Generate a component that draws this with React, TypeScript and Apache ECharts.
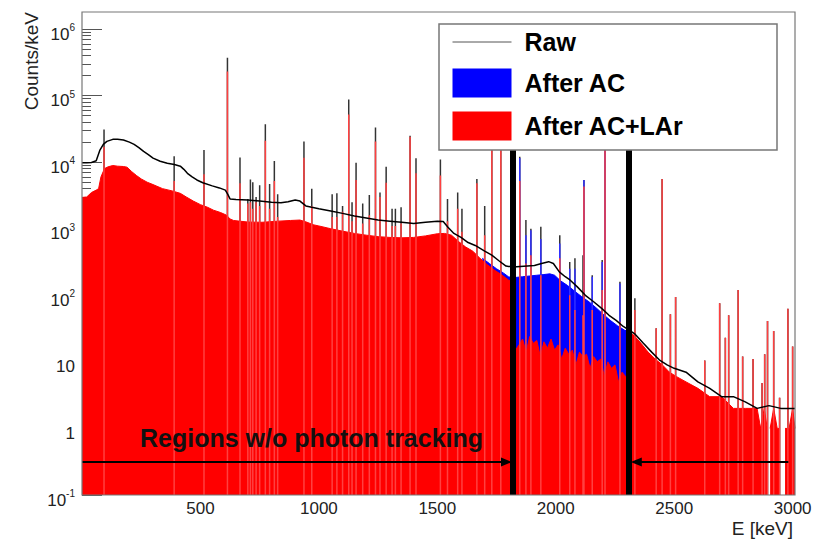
import React, { useEffect, useRef } from 'react';
import * as echarts from 'echarts';

const FONT = '"Liberation Sans", Arial, Helvetica, sans-serif';

// axis ticks
const xTicks = [500, 1000, 1500, 2000, 2500, 3000];
const yDecades = [0.1, 1, 10, 100, 1000, 10000, 100000, 1000000];

// Raw spectrum continuum (E in keV, counts/keV)
const rawE = [0,20,40,60,75,90,105,130,150,175,200,220,240,260,280,300,330,360,390,415,430,445,465,485,510,550,580,605,615,625,650,700,750,800,840,870,900,920,945,970,1000,1050,1100,1150,1200,1250,1300,1350,1400,1450,1500,1525,1545,1570,1600,1630,1660,1700,1730,1760,1790,1820,1850,1880,1910,1940,1970,1990,2015,2040,2060,2090,2125,2160,2195,2225,2255,2285,2310,2335,2370,2405,2440,2470,2500,2550,2600,2650,2700,2750,2800,2850,2900,2950,3010];
const rawV = [9800,9800,9900,10500,15000,18500,20500,22000,22000,21500,20000,18500,16500,14500,13000,11500,10300,9600,9200,8700,7800,6800,6000,5400,4900,4400,4100,3800,3300,2800,2750,2700,2600,2500,2450,2550,2700,2600,2200,2100,2000,1850,1700,1550,1450,1350,1300,1250,1200,1250,1300,1280,1050,850,740,620,560,460,400,330,275,265,270,275,280,300,320,300,225,190,170,135,100,80,63,50,42,34,30,26,19,14,10.5,9,8,7,5,4,3,3,2.5,2,2.2,2,2];

// After AC continuum (visible part)
const acE = [1690,1720,1750,1780,1800,1813,1817,1830,1860,1890,1920,1950,1975,1995,2020,2050,2080,2110,2140,2170,2200,2230,2260,2290,2312];
const acV = [360,300,250,215,190,185,190,185,190,195,200,205,210,200,165,140,115,95,80,65,52,42,35,30,28];

// After AC+LAr continuum (null = empty bins)
const larE = [0,20,40,60,70,80,95,110,130,150,175,190,210,230,250,275,300,340,380,415,440,470,500,530,555,585,610,625,640,700,760,830,880,920,950,975,1000,1050,1100,1150,1200,1250,1300,1350,1400,1450,1500,1530,1560,1590,1620,1650,1680,1710,1740,1770,1800,1813,1817,1830,1845,1860,1875,1890,1905,1920,1935,1950,1965,1980,1995,2010,2025,2040,2055,2070,2085,2100,2115,2130,2145,2160,2175,2190,2205,2220,2235,2250,2265,2280,2295,2306,2312,2330,2360,2390,2420,2450,2480,2510,2550,2600,2650,2700,2750,2800,2850,2865,2880,2893,2899,2905,2920,2935,2945,2955,2968,2985,3000,3010];
const larV = [2950,3000,3500,3800,4000,6000,8000,8500,8900,8700,8600,8400,7200,6300,5600,5000,4600,4000,3700,3400,3000,2600,2300,2100,1900,1750,1600,1400,1330,1260,1250,1300,1330,1350,1250,1150,1100,1000,920,850,800,760,740,730,740,780,840,850,800,640,530,460,360,290,240,205,170,160,17,15,18,22,14,24,19,21,12,20,16,22,15,18,11,16,13,15,9,14,12,13,8,12,10,11,6,10,8,9,5,7,6,6,28,25,19,14,11,9,7,6,5,4,3,3,2,2,2,1,2,1,null,1,2,1,1,null,1,1,2,1];

// gamma lines: energy, raw height, after AC+LAr height
const peakE = [93,389,515,614,667,700,711,721,735,750,774,792,812,826,937,970,1056,1076,1100,1126,1140,1157,1185,1213,1239,1258,1284,1309,1323,1347,1385,1410,1513,1543,1586,1604,1667,1700,1730,1768,1848,1874,1895,1937,2017,2059,2081,2115,2119,2154,2196,2208,2271,2334,2424,2449,2484,2506,2629,2692,2716,2730,2770,2789,2833,2871,2882,2894,2920,2945,2980,3000];
const peakRaw = [31000,12300,15200,370000,11700,2800,5500,5000,3000,4500,37000,4700,10400,3300,20500,4000,3300,3400,2200,87000,2500,9800,2400,3200,33000,3500,8500,2000,2000,2100,25000,11400,11000,2800,3500,2000,5600,2200,30000,30000,12000,1350,1000,1070,800,315,360,400,5400,200,340,30000,160,90,32,5600,52,94,10.5,76,23,50,120,12,11,4.8,13,41,29,2.9,63,17];
const peakLAr = [17000,5200,6600,230000,4800,2400,2500,2000,2500,2200,21000,2000,5200,1500,11600,2200,1500,1500,1800,52000,1300,5400,1200,1600,20500,3000,4900,1100,1100,1200,24000,6800,6300,1300,2000,900,4800,800,30000,30000,5200,300,400,200,360,100,60,50,4300,60,120,30000,40,60,32,5600,52,94,10.5,76,23,50,120,12,11,4.8,13,41,29,2.9,63,17];
const acPeakE = [1848,1874,1895,1937,2017,2059,2081,2119,2154,2196,2208,2271];
const acPeakV = [11500,800,950,700,600,250,250,5400,190,315,30000,150];

// annotations (keV / counts)
const cutE = [1817, 2310];
const cutRange = [0.1, 30000];
const arrowY = 0.313;
const arrowLeft = [0, 1792];
const arrowRight = [2982, 2340];

const pairs = (es: number[], vs: (number | null)[]) => es.map((e, i) => [e, vs[i]]);
const spikes = (es: number[], vs: number[]) =>
  es.flatMap((e, i) => [[e, 0.1], [e, vs[i]], [e, null]]);

const yLabel = (v: number) => {
  const p = Math.round(Math.log10(v));
  if (Math.abs(v - Math.pow(10, p)) > 1e-6 * Math.pow(10, p)) return '';
  if (!yDecades.some((d) => Math.abs(d - v) < 1e-6 * d)) return '';
  if (p === 0) return '{b|1}';
  if (p === 1) return '{b|10}';
  return `{b|10}{s|${p}}`;
};

const option: any = {
  animation: false,
  grid: { left: 82, right: 35, top: 29, bottom: 46, containLabel: false, outerBoundsMode: 'none' },
  xAxis: {
    type: 'value',
    min: 0,
    max: 3010,
    interval: 500,
    axisLine: { show: false },
    axisTick: { show: false },
    splitLine: { show: false },
    axisLabel: {
      margin: 5,
      color: '#222',
      fontSize: 17,
      fontFamily: FONT,
      formatter: (v: number) => (xTicks.includes(v) ? String(v) : ''),
    },
  },
  yAxis: {
    type: 'log',
    logBase: 10,
    min: 0.1,
    max: 1e6,
    splitNumber: 7,
    axisLine: { show: false },
    splitLine: { show: false },
    axisTick: { show: true, inside: true, length: 20, lineStyle: { color: '#555', width: 1 } },
    minorTick: { show: true, splitNumber: 9, length: 9, lineStyle: { color: '#555', width: 1 } },
    axisLabel: {
      margin: 7,
      color: '#222',
      fontFamily: FONT,
      padding: [7, 0, 0, 0],
      formatter: yLabel,
      rich: {
        b: { fontSize: 17, fontFamily: FONT, color: '#222', lineHeight: 20, verticalAlign: 'bottom' },
        s: { fontSize: 10, fontFamily: FONT, color: '#222', lineHeight: 11, verticalAlign: 'top' },
      },
    },
  },
  legend: {
    orient: 'vertical',
    left: 452,
    top: 29.5,
    padding: 0,
    itemWidth: 59,
    itemHeight: 29,
    itemGap: 14,
    selectedMode: false,
    z: 11,
    textStyle: { fontFamily: FONT, fontSize: 25, fontWeight: 'bold', color: '#000', padding: [0, 0, 0, 8] },
    data: [
      { name: 'Raw', itemStyle: { color: 'rgba(0,0,0,0)', borderWidth: 0 }, lineStyle: { color: '#555', width: 1 } },
      { name: 'After AC', icon: 'rect' },
      { name: 'After AC+LAr', icon: 'rect' },
    ],
  },
  graphic: [
    {
      type: 'rect',
      shape: { x: 439, y: 24, width: 338, height: 126 },
      style: { fill: '#fff', stroke: '#777', lineWidth: 1.5 },
      z: 10,
    },
    {
      type: 'rect',
      shape: { x: 82, y: 12, width: 713, height: 483 },
      style: { fill: 'none', stroke: '#777', lineWidth: 1.2 },
      z: 9,
      silent: true,
    },
    {
      type: 'text',
      x: 140,
      y: 438,
      style: {
        text: 'Regions w/o photon tracking',
        fontFamily: FONT,
        fontSize: 25,
        fontWeight: 'bold',
        fill: '#111',
        align: 'left',
        verticalAlign: 'middle',
      },
      z: 7,
    },
    {
      type: 'text',
      x: 31,
      y: 12,
      rotation: Math.PI / 2,
      style: {
        text: 'Counts/keV',
        fontFamily: FONT,
        fontSize: 19,
        fill: '#222',
        align: 'right',
        verticalAlign: 'middle',
      },
      z: 7,
    },
    {
      type: 'text',
      x: 793,
      y: 528,
      style: {
        text: 'E [keV]',
        fontFamily: FONT,
        fontSize: 19,
        fill: '#222',
        align: 'right',
        verticalAlign: 'middle',
      },
      z: 7,
    },
  ],
  series: [
    {
      type: 'line',
      name: 'raw lines',
      data: spikes(peakE, peakRaw),
      symbol: 'none',
      silent: true,
      lineStyle: { color: '#333', width: 1.5 },
      z: 2,
    },
    {
      type: 'line',
      name: 'After AC',
      color: '#0000ff',
      itemStyle: { color: '#0000ff' },
      data: pairs(acE, acV),
      symbol: 'none',
      silent: true,
      lineStyle: { color: '#0000ff', width: 1 },
      areaStyle: { color: '#0000ff', opacity: 1, origin: 'start' },
      z: 3,
    },
    {
      type: 'line',
      name: 'AC lines',
      data: spikes(acPeakE, acPeakV),
      symbol: 'none',
      silent: true,
      lineStyle: { color: '#3030ff', width: 1.5 },
      z: 3,
    },
    {
      type: 'line',
      name: 'After AC+LAr',
      color: '#ff0000',
      itemStyle: { color: '#ff0000' },
      data: pairs(larE, larV),
      symbol: 'none',
      silent: true,
      connectNulls: false,
      lineStyle: { color: '#ff0000', width: 1 },
      areaStyle: { color: '#ff0000', opacity: 1, origin: 'start' },
      z: 4,
    },
    {
      type: 'line',
      name: 'LAr lines',
      data: spikes(peakE, peakLAr),
      symbol: 'none',
      silent: true,
      lineStyle: { color: '#ff4040', width: 1.5 },
      z: 4,
    },
    {
      type: 'line',
      name: 'Raw',
      color: '#000',
      data: pairs(rawE, rawV),
      symbol: 'none',
      silent: true,
      lineStyle: { color: '#000', width: 1.5 },
      z: 5,
      markLine: {
        silent: true,
        z: 6,
        symbol: 'none',
        label: { show: false },
        emphasis: { disabled: true },
        data: [
          [
            { coord: [cutE[0], cutRange[0]], symbol: 'none', lineStyle: { color: '#000', width: 6, type: 'solid' } },
            { coord: [cutE[0], cutRange[1]], symbol: 'none' },
          ],
          [
            { coord: [cutE[1], cutRange[0]], symbol: 'none', lineStyle: { color: '#000', width: 6, type: 'solid' } },
            { coord: [cutE[1], cutRange[1]], symbol: 'none' },
          ],
          [
            { coord: [arrowLeft[0], arrowY], symbol: 'none', lineStyle: { color: '#000', width: 2, type: 'solid' } },
            { coord: [arrowLeft[1], arrowY], symbol: 'triangle', symbolSize: [9, 11] },
          ],
          [
            { coord: [arrowRight[0], arrowY], symbol: 'none', lineStyle: { color: '#000', width: 2, type: 'solid' } },
            { coord: [arrowRight[1], arrowY], symbol: 'triangle', symbolSize: [9, 11] },
          ],
        ],
      },
    },
  ],
};

export default function App() {
  const ref = useRef<HTMLDivElement>(null);
  useEffect(() => {
    document.body.style.margin = '0';
    const chart = echarts.init(ref.current as HTMLDivElement, null, { renderer: 'svg' });
    chart.setOption(option);
    return () => chart.dispose();
  }, []);
  return <div ref={ref} style={{ width: 830, height: 541 }} />;
}
